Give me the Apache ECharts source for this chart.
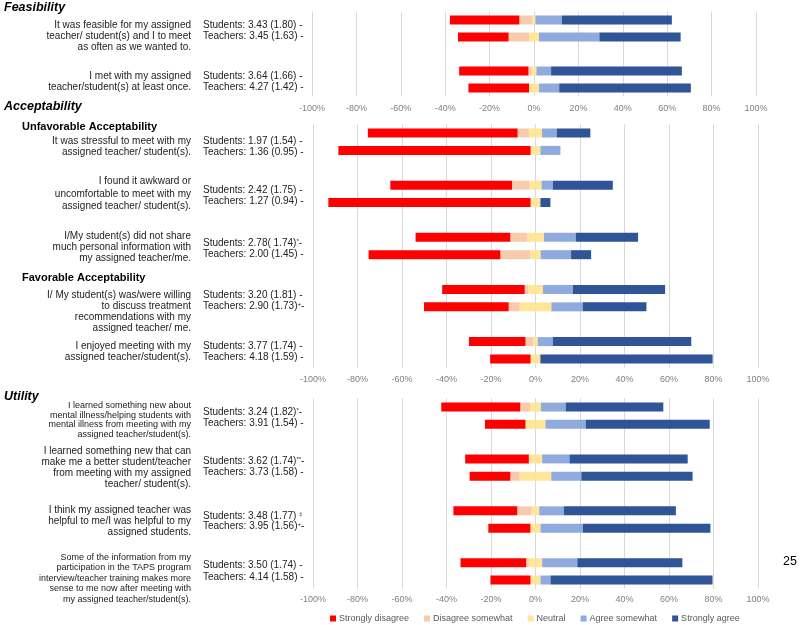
<!DOCTYPE html>
<html>
<head>
<meta charset="utf-8">
<title>TAPS feasibility, acceptability and utility</title>
<script src="https://cdn.jsdelivr.net/npm/echarts@6/dist/echarts.min.js"></script>
<style>
html, body { margin: 0; padding: 0; background: #fff; }
#chart { width: 800px; height: 625px; }
</style>
</head>
<body>
<div id="chart"></div>
<script>
// response levels (legend order) and colours
const levels = ['Strongly disagree', 'Disagree somewhat', 'Neutral', 'Agree somewhat', 'Strongly agree'];
const levelColors = ['#FF0000', '#F8CBAD', '#FFE699', '#8FAADC', '#2F5597'];

// x axis ticks (%)
const xMin = -100, xMax = 100, xStep = 20;

// % per row: [strongly disagree, disagree somewhat, neutral, agree somewhat, strongly agree]
// rows go students, teachers for every question
const feasibilityRows = [
    [31.3, 6.0, 1.2, 12.0, 49.5],
    [22.8, 9.2, 4.5, 27.2, 36.6],
    [31.2, 1.4, 2.2, 6.6, 58.9],
    [27.3, 0, 4.5, 9.1, 59.3]
];
const acceptabilityRows = [
    [67.3, 5.1, 5.9, 6.6, 15.1],
    [86.4, 0, 4.4, 9.0, 0],
    [54.7, 7.8, 5.5, 5.1, 26.9],
    [90.9, 0, 4.4, 0, 4.5],
    [42.6, 7.5, 7.6, 14.3, 28.0],
    [59.2, 13.5, 4.6, 13.7, 9.0],
    [37.1, 1.5, 6.7, 13.5, 41.4],
    [38.1, 4.9, 14.3, 14.1, 28.6],
    [25.4, 3.5, 2.0, 6.8, 62.2],
    [18.2, 0, 4.4, 0, 77.4]
];
const utilityRows = [
    [35.5, 4.4, 4.9, 11.1, 43.9],
    [18.2, 0, 9.0, 18.1, 55.7],
    [28.6, 0, 6.0, 12.3, 53.1],
    [18.3, 4.2, 14.2, 13.5, 50.0],
    [28.7, 6.5, 3.4, 11.0, 50.4],
    [18.9, 0, 4.6, 19.0, 57.3],
    [29.5, 1.2, 6.0, 15.8, 47.2],
    [18.0, 0, 4.5, 4.5, 72.8]
];

// question texts
const feasibilityQuestions = [
    'It was feasible for my assigned\nteacher/ student(s) and I to meet\nas often as we wanted to.',
    'I met with my assigned\nteacher/student(s) at least once.'
];
const acceptabilityQuestions = [
    'It was stressful to meet with my\nassigned teacher/ student(s).',
    'I found it awkward or\nuncomfortable to meet with my\nassigned teacher/ student(s).',
    'I/My student(s) did not share\nmuch personal information with\nmy assigned teacher/me.',
    'I/ My student(s) was/were willing\nto discuss treatment\nrecommendations with my\nassigned teacher/ me.',
    'I enjoyed meeting with my\nassigned teacher/student(s).'
];
const utilityQuestions = [
    'I learned something new about\nmental illness/helping students with\nmental illness from meeting with my\nassigned teacher/student(s).',
    'I learned something new that can\nmake me a better student/teacher\nfrom meeting with my assigned\nteacher/ student(s).',
    'I think my assigned teacher was\nhelpful to me/I was helpful to my\nassigned students.',
    'Some of the information from my\nparticipation in the TAPS program\ninterview/teacher training makes more\nsense to me now after meeting with\nmy assigned teacher/student(s).'
];

// mean (sd) labels, {s|..} = superscript mark
const feasibilityStats = [
    ['Students: 3.43 (1.80) -', 'Teachers: 3.45 (1.63) -'],
    ['Students: 3.64 (1.66) -', 'Teachers: 4.27 (1.42) -']
];
const acceptabilityStats = [
    ['Students: 1.97 (1.54) -', 'Teachers: 1.36 (0.95) -'],
    ['Students: 2.42 (1.75) -', 'Teachers: 1.27 (0.94) -'],
    ['Students: 2.78( 1.74){s|*}-', 'Teachers: 2.00 (1.45) -'],
    ['Students: 3.20 (1.81) -', 'Teachers: 2.90 (1.73){s|+}-'],
    ['Students: 3.77 (1.74) -', 'Teachers: 4.18 (1.59) -']
];
const utilityStats = [
    ['Students: 3.24 (1.82){s|*}-', 'Teachers: 3.91 (1.54) -'],
    ['Students: 3.62 (1.74){s|**}-', 'Teachers: 3.73 (1.58) -'],
    ['Students: 3.48 (1.77) {s|‡}', 'Teachers: 3.95 (1.56){s|+}-'],
    ['Students: 3.50 (1.74) -', 'Teachers: 4.14 (1.58) -']
];

// layout
const FONT = '"Liberation Sans", Arial, sans-serif';
const panels = [
    { title: 'Feasibility', titleY: 8, rows: feasibilityRows, questions: feasibilityQuestions, stats: feasibilityStats,
      grid: { left: 312, right: 44, top: 11.5, height: 85 }, labelMargin: 8,
      qPos: [[36, 11, 10], [82, 11.4, 10]],
      sPos: [[25, 36], [76.3, 87.7]] },
    { title: 'Acceptability', titleY: 107, rows: acceptabilityRows, questions: acceptabilityQuestions, stats: acceptabilityStats,
      grid: { left: 313, right: 42, top: 124.3, height: 243.4 }, labelMargin: 7,
      qPos: [[147, 10.6, 10], [194.2, 12.5, 10], [247, 11.2, 10], [311.7, 10.9, 10], [352, 10.6, 10]],
      sPos: [[141.7, 152.3], [190, 201], [243.3, 254], [295.3, 306], [346.7, 357.3]] },
    { title: 'Utility', titleY: 396.7, rows: utilityRows, questions: utilityQuestions, stats: utilityStats,
      grid: { left: 313, right: 42, top: 398.4, height: 190.3 }, labelMargin: 6.5,
      qPos: [[420, 9.8, 9], [467.6, 11.1, 10], [521.2, 11.3, 10], [578.3, 10.5, 9]],
      sPos: [[412.7, 423.3], [461.7, 472], [516, 526.7], [565.7, 577.3]] }
];
const subHeads = [['Unfavorable Acceptability', 127], ['Favorable Acceptability', 278.3]];

const grids = [], xAxes = [], yAxes = [], series = [], graphics = [];

panels.forEach((p, gi) => {
    // rows with a blank slot between questions
    const slots = [], cats = [];
    p.questions.forEach((q, qi) => {
        if (qi > 0) { slots.push(null); cats.push('gap ' + qi); }
        slots.push(p.rows[qi * 2]); cats.push('Q' + (qi + 1) + ' Students');
        slots.push(p.rows[qi * 2 + 1]); cats.push('Q' + (qi + 1) + ' Teachers');
    });

    grids.push(Object.assign({ containLabel: false }, p.grid));
    xAxes.push({
        type: 'value', gridIndex: gi, min: xMin, max: xMax, interval: xStep,
        axisLine: { show: false }, axisTick: { show: false },
        axisLabel: { formatter: '{value}%', color: '#7f7f7f', fontSize: 9, fontFamily: FONT, margin: p.labelMargin },
        splitLine: { lineStyle: { color: '#d9d9d9', width: 1 } }
    });
    yAxes.push({
        type: 'category', gridIndex: gi, data: cats, inverse: true,
        axisLine: { show: false }, axisTick: { show: false }, axisLabel: { show: false }, splitLine: { show: false }
    });

    // neutral split around 0, disagree stacks left, agree stacks right
    const pick = (k, sign, half) => slots.map(r => r ? sign * (half ? r[k] / 2 : r[k]) : null);
    [
        [2, -1, true], [2, 1, true], [1, -1, false], [3, 1, false], [0, -1, false], [4, 1, false]
    ].forEach(([k, sign, half]) => {
        series.push({
            name: levels[k], type: 'bar', stack: 'panel' + gi,
            xAxisIndex: gi, yAxisIndex: gi, barWidth: 9,
            itemStyle: { color: levelColors[k] },
            data: pick(k, sign, half), silent: true
        });
    });

    graphics.push({
        type: 'text', left: 4, top: p.titleY - 7,
        style: { text: p.title, font: 'italic bold 12.5px ' + FONT, fill: '#000' }
    });
    p.questions.forEach((q, qi) => {
        const [y, lh, fs] = p.qPos[qi];
        graphics.push({
            type: 'text', x: 191, y: y,
            style: { text: q, fontSize: fs, fontFamily: FONT, fill: '#222', align: 'right', verticalAlign: 'middle', lineHeight: lh }
        });
        p.stats[qi].forEach((s, si) => {
            graphics.push({
                type: 'text', x: 203, y: p.sPos[qi][si],
                style: {
                    text: s, fontSize: 10, fontFamily: FONT, fill: '#222', align: 'left', verticalAlign: 'middle',
                    rich: { s: { fontSize: 6, fontFamily: FONT, fill: '#222', verticalAlign: 'top' } }
                }
            });
        });
    });
});

subHeads.forEach(([t, y]) => {
    graphics.push({
        type: 'text', x: 22, y: y,
        style: { text: t, font: 'bold 11px ' + FONT, fill: '#000', verticalAlign: 'middle' }
    });
});
// slide page number
graphics.push({
    type: 'text', x: 790, y: 562,
    style: { text: '25', fontSize: 12.5, fontFamily: FONT, fill: '#000', align: 'center', verticalAlign: 'middle' }
});

const chart = echarts.init(document.getElementById('chart'), null, { renderer: 'canvas' });
chart.setOption({
    animation: false,
    backgroundColor: '#fff',
    grid: grids,
    xAxis: xAxes,
    yAxis: yAxes,
    legend: {
        data: levels, left: 325, top: 609, icon: 'rect',
        itemWidth: 6, itemHeight: 6, itemGap: 15,
        textStyle: { fontSize: 9, fontFamily: FONT, color: '#595959', padding: [0, 0, 0, -2] },
        selectedMode: false
    },
    series: series,
    graphic: graphics
});
window.onresize = function () { chart && chart.resize(); };
</script>
</body>
</html>
